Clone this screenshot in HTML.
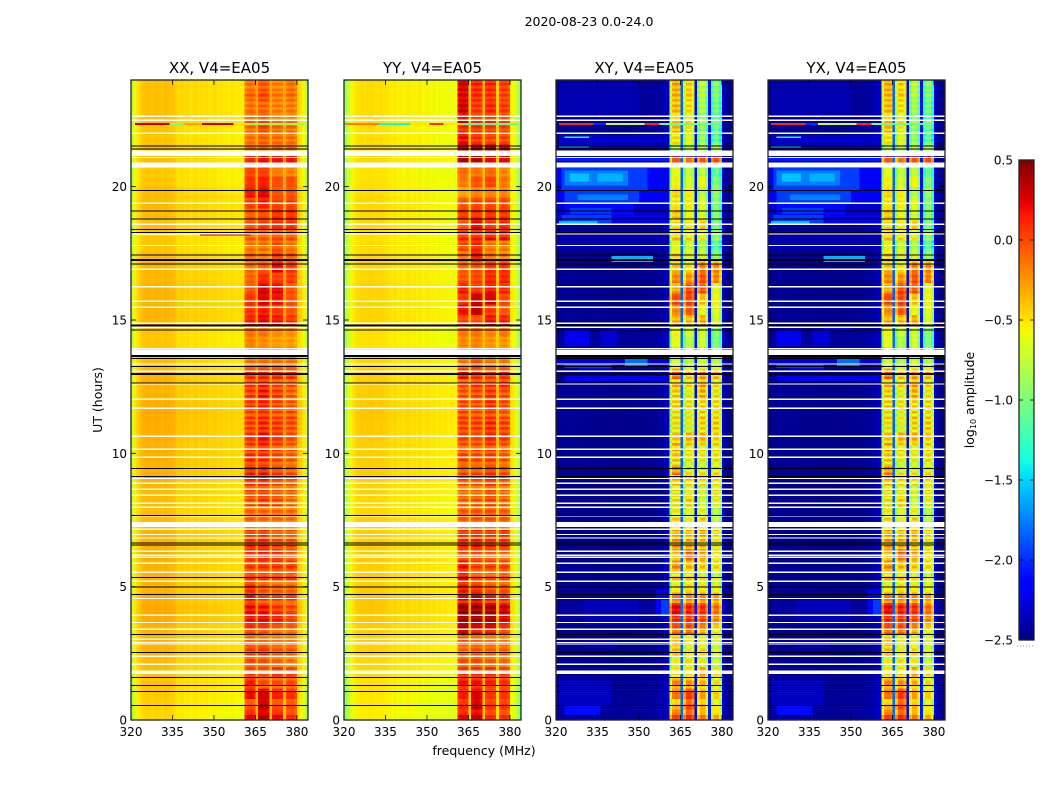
<!DOCTYPE html>
<html lang="en">
<head>
<meta charset="utf-8">
<title>2020-08-23 amplitude waterfall</title>
<style>
html,body{margin:0;padding:0;background:#fff;}
svg{display:block;}
text{font-family:"DejaVu Sans","Liberation Sans",sans-serif;fill:#000;}
</style>
</head>
<body>
<svg id="figure" xmlns="http://www.w3.org/2000/svg" width="1050" height="800" viewBox="0 0 1050 800">
<rect x="0" y="0" width="1050" height="800" fill="#fff"/>
<text x="589" y="26" font-size="12.5" text-anchor="middle">2020-08-23 0.0-24.0</text>
<text x="0" y="0" font-size="12.5" text-anchor="middle" transform="translate(102 400) rotate(-90)">UT (hours)</text>
<text x="484" y="755" font-size="12.5" text-anchor="middle">frequency (MHz)</text>
<text x="0" y="0" font-size="12.5" text-anchor="middle" transform="translate(974 400) rotate(-90)">log<tspan font-size="8" dy="2">10</tspan><tspan dy="-2"> amplitude</tspan></text>
<g id="panels"></g>
<g id="colorbar"></g>
</svg>
<script>
// ---- axis data ----
const xTickValues = [320, 335, 350, 365, 380];
const yTickValues = [0, 5, 10, 15, 20];
const colorbarTicks = [-2.5, -2.0, -1.5, -1.0, -0.5, 0.0, 0.5];
const panelTitles = ['XX, V4=EA05', 'YY, V4=EA05', 'XY, V4=EA05', 'YX, V4=EA05'];
const rowHours = 0.4;
const fineRowsPerRow = 4;
const channelCount = 64;

// channel class: -1 background or gap, 0..3 sub-band number
const channelBand = [
-1,-1,-1,-1,-1,-1,-1,-1,-1,-1,-1,-1,-1,-1,-1,-1,-1,-1,-1,-1,-1,-1,-1,-1,-1,-1,-1,-1,-1,-1,-1,-1,-1,-1,-1,-1,-1,-1,-1,-1,-1,
0,0,0,0,-1,1,1,1,1,-1,2,2,2,2,-1,3,3,3,3,-1,-1,-1,-1];

// spectral profile per channel (log10 amp for background, offset inside a sub-band)
const xxProfile = [-.75,-.55,-.47,-.42,-.38,-.37,-.36,-.38,-.37,-.36,-.37,-.38,-.36,-.37,-.38,-.39,-.44,-.45,-.43,-.46,-.44,-.48,-.46,-.44,-.48,-.46,-.47,-.45,-.49,-.47,-.46,-.49,-.48,-.5,-.49,-.51,-.48,-.5,-.51,-.5,-.52,-.13,-.08,-.06,-.1,-.27,-.08,-.05,-.05,-.1,-.3,-.08,-.06,-.06,-.1,-.3,-.1,-.06,-.06,-.13,-.42,-.47,-.55,-.75];
const yyProfile = [-.85,-.7,-.58,-.52,-.47,-.46,-.45,-.46,-.45,-.44,-.45,-.46,-.46,-.45,-.46,-.47,-.49,-.51,-.48,-.52,-.5,-.53,-.5,-.49,-.53,-.51,-.53,-.5,-.55,-.53,-.51,-.55,-.53,-.56,-.54,-.56,-.55,-.56,-.57,-.56,-.57,-.1,-.05,-.03,-.07,-.37,-.05,-.02,-.02,-.07,-.35,-.05,-.03,-.03,-.07,-.4,-.07,-.03,-.03,-.1,-.5,-.55,-.65,-.85];
const xyProfile = [-2.48,-2.46,-2.46,-2.44,-2.44,-2.46,-2.44,-2.46,-2.46,-2.44,-2.46,-2.46,-2.47,-2.46,-2.46,-2.47,-2.47,-2.46,-2.47,-2.47,-2.48,-2.47,-2.47,-2.48,-2.47,-2.48,-2.47,-2.47,-2.46,-2.47,-2.47,-2.46,-2.46,-2.46,-2.46,-2.44,-2.44,-2.42,-2.42,-2.38,-2.32,-.4,-.02,.03,-.02,-1.85,-.3,.03,.03,-.12,-2.2,-.2,.03,.03,-.25,-2.1,-.2,.03,.03,-.25,-2.3,-2.46,-2.48,-2.48];

// time variation of background, one value per 0.4 h row from 0 h upward
const xxBackground = [-.08,-.06,-.04,-.02,0,0,.03,.03,.03,.06,.06,.05,.03,.03,.03,.05,.03,.03,.01,0,.01,.01,.03,.04,.04,.04,.04,.05,.06,.05,.03,.03,.02,0,-.02,-.03,-.03,.03,.03,.03,.03,.02,.02,0,-.03,-.02,-.01,0,.01,0,-.03,-.04,0,-.01,-.03,-.02,-.01,-.01,-.01,-.01];
const yyBackground = [-.07,-.06,-.05,-.03,0,0,.02,.02,.03,.05,.05,.05,.03,.03,.03,.04,.03,.03,.02,0,0,.01,.02,.03,.03,.03,.03,.04,.05,.04,.03,.03,.02,0,-.02,-.03,-.03,.01,.01,.01,.01,0,0,-.01,-.02,-.02,-.01,-.01,0,-.02,-.03,-.04,0,-.01,-.02,-.02,-.02,-.02,-.02,-.02];
const xyBackground = [.04,.03,.03,.02,.02,.01,.01,.01,.01,.03,.03,.02,.01,.01,.01,.01,.01,.01,.01,0,0,0,0,.01,.01,.01,0,0,.01,.01,.01,.01,.02,.04,.04,.04,.02,.01,.01,.01,0,0,.01,.01,.02,.02,.03,.03,.02,.02,.02,.02,.04,.02,.02,.02,.02,.02,.02,.02];

// sub-band amplitude per 0.4 h row from 0 h upward: [band1, band2, band3, band4]
const xxBandRows = [
[.25,.38,.22,.12],[.05,.38,.05,.05],[.28,.33,.2,.15],[.2,.02,.02,.05],[.12,.08,.15,.1],
[.05,0,-.05,-.1],[.1,.1,0,0],[.05,-.02,-.05,-.05],[.15,.1,0,0],[.25,.28,.2,.1],
[.25,.2,.1,.05],[.2,.05,.05,.05],[.15,.02,-.02,-.02],[.15,.1,.1,.1],[.1,.1,.1,.1],
[.2,.25,.2,.1],[.15,.15,.05,.05],[.1,.1,0,0],[0,-.05,-.05,-.05],[-.02,-.05,-.05,-.05],
[.05,.1,.05,-.05],[.1,.1,.02,.02],[.15,.15,.05,0],[.2,.2,.1,.05],[.15,.12,.05,0],
[.1,.15,.05,0],[.1,.2,.08,.02],[.1,.15,.1,.05],[.08,.12,.05,.05],[.1,.15,.05,0],
[.12,.2,.1,0],[.1,.15,.03,0],[.15,.15,.15,.12],[-.05,-.05,-.05,-.05],[-.1,-.1,-.1,-.1],
[-.1,-.15,-.2,-.2],[-.05,-.08,-.15,-.15],[.2,.28,.22,.12],[.15,.22,.12,.05],[.15,.3,.25,.05],
[.05,.33,.3,.05],[0,.15,.1,.1],[-.05,0,.25,.12],[-.02,-.1,.1,0],[-.05,-.05,.05,-.05],
[0,0,.05,.05],[.05,.1,.15,.15],[.02,.05,.15,.15],[.12,.2,.1,.1],[.25,.3,.05,.05],
[.15,.2,.05,.05],[.1,.1,-.1,-.1],[.2,.25,.25,.25],[-.05,-.05,-.05,-.05],[-.05,-.02,-.05,-.05],
[-.02,.08,-.03,-.03],[0,.03,-.08,-.08],[-.05,-.03,-.1,-.08],[-.02,.05,-.1,-.05],[-.05,.02,-.1,-.05]];
const yyBandRows = [
[.22,.3,.1,.08],[.15,.33,.1,.1],[.2,.28,.1,.1],[.2,.18,.15,.1],[.12,.1,.12,.08],
[0,0,-.05,-.08],[-.05,-.02,-.05,-.05],[.05,-.02,-.05,-.08],[.4,.25,.25,.1],[.45,.42,.42,.3],
[.45,.42,.4,.32],[.22,.3,.15,.1],[.2,.1,0,0],[.25,.02,0,.05],[.2,.05,.05,.05],
[.1,.08,.05,0],[.15,.15,.1,.1],[.1,.1,.1,.1],[-.02,-.02,0,-.02],[-.02,-.02,0,-.03],
[-.03,-.03,.03,-.05],[-.05,-.05,.05,-.05],[.02,0,.08,0],[.05,.03,.1,.02],[.05,0,.05,-.03],
[0,0,.05,-.03],[.03,-.02,.1,.03],[.05,.05,.12,.05],[.05,0,.05,0],[.02,0,.1,.02],
[0,.02,.08,.02],[0,.05,.05,.08],[.2,.1,.05,.1],[-.1,.02,-.1,-.1],[-.2,-.2,-.2,-.2],
[-.15,-.15,-.2,-.2],[-.1,-.1,-.15,-.1],[.05,0,.2,.15],[.25,.35,.1,0],[.12,.32,.3,.05],
[.2,.1,.2,.15],[.02,.05,.15,.15],[-.05,0,.1,.1],[-.1,.2,-.1,-.15],[.05,.15,-.1,-.1],
[.15,.15,.2,.2],[0,.25,.1,.15],[.1,.1,.12,.1],[.02,.05,.05,.05],[-.25,-.15,-.15,-.15],
[-.1,0,.05,-.1],[-.05,-.1,-.05,-.15],[.42,.38,.25,.3],[.4,.4,.4,.35],[.25,.1,.05,.05],
[.15,.1,.08,.05],[.3,.1,.12,.05],[.35,.1,.15,.1],[.3,.12,.1,.05],[.35,.15,.15,.1]];
const xyBandRows = [
[-.05,0,-.25,-.4],[-.4,-.05,-.4,-.6],[-.15,.03,-.3,-.45],[-.25,-.3,-.4,-.55],[-.5,-.5,-.3,-.5],
[-.6,-.55,-.6,-.75],[-.4,-.6,-.5,-.7],[-.35,-.55,-.6,-.6],[-.05,-.05,-.25,-.5],[.1,.05,0,-.2],
[.2,.1,.05,-.15],[-.2,-.25,-.25,-.3],[-.55,-.5,-.55,-.6],[-.4,-.45,-.55,-.65],[-.25,-.4,-.45,-.5],
[-.3,0,-.2,-.45],[-.25,-.35,-.4,-.55],[-.35,-.4,-.35,-.5],[-.45,-.6,-.45,-.75],[-.55,-.65,-.6,-.8],
[-.5,-.45,-.7,-.6],[-.5,-.55,-.65,-.5],[-.4,-.5,-.55,-.55],[-.2,-.55,-.55,-.5],[-.45,-.6,-.6,-.55],
[-.35,-.5,-.55,-.5],[-.45,-.4,-.4,-.5],[-.55,-.65,-.5,-.45],[-.5,-.6,-.45,-.5],[-.45,-.55,-.5,-.5],
[-.45,-.6,-.35,-.55],[-.4,-.55,-.35,-.55],[-.15,-.45,-.3,-.4],[-.7,-.8,-.7,-.8],[-.9,-.9,-.9,-.9],
[-.6,-.8,-.7,-1],[-.55,-.7,-.7,-.95],[-.35,-.4,-.35,-.7],[-.2,-.05,-.6,-.65],[0,0,-.4,-.6],
[-.3,0,-.05,-.6],[-.2,-.25,-.05,-.2],[-.4,-.55,-.2,-.25],[-.45,-.6,-.65,-.9],[-.6,-.7,-.8,-1.1],
[-.4,-.5,-.6,-.9],[-.5,-.55,-.45,-1],[-.4,-.6,-.7,-.95],[-.5,-.55,-.65,-1],[-.45,-.55,-.8,-.9],
[-.55,-.7,-.6,-1],[-.6,-.75,-.75,-1.1],[-.05,-.15,-.05,-.02],[-.8,-.8,-.8,-.8],[-.5,-.65,-.9,-1.1],
[-.35,-.55,-.9,-1.05],[-.4,-.55,-.85,-1.05],[-.35,-.5,-.85,-1.05],[-.35,-.45,-.8,-1],[-.3,-.45,-.75,-.95]];

// fine time stripes inside the sub-bands, one value per 0.1 h from 0 h upward
const autoStripes = [
.05,.08,-.06,-.1,.03,.06,-.04,-.08,.02,0,
.04,-.06,-.08,.05,.06,-.08,-.03,.04,-.06,.02,
-.08,.05,.06,-.1,.04,-.08,.06,-.06,.05,-.08,
.06,-.08,.05,-.1,.06,.04,-.1,.05,-.06,.06,
.08,-.06,.1,-.1,-.12,.1,.08,-.08,.06,-.06,
.04,-.1,.05,.08,-.12,.04,-.08,.08,-.06,.05,
-.08,.06,-.1,.08,-.06,.08,-.12,.06,-.08,.08,
-.06,.08,-.1,.06,-.08,.05,-.08,-.04,.06,-.1,
.08,-.12,.08,-.08,.1,-.1,.06,-.12,.08,-.06,
.1,-.12,.08,-.1,.1,-.08,-.12,.1,-.08,.08,
-.1,.08,-.12,.1,-.06,.08,-.1,.08,-.08,.1,
-.12,.1,-.08,.1,-.12,.08,-.1,.1,-.08,.08,
-.1,.1,-.12,.08,-.08,.1,-.06,-.1,.08,-.1,
.08,-.08,.06,-.06,.04,-.06,.04,-.02,.02,-.02,
.02,-.02,.03,-.03,.02,-.02,.02,-.03,.02,.08,
-.03,.03,-.02,.02,-.03,.02,.03,-.02,.02,-.02,
.05,-.05,.04,-.06,.05,-.04,.03,-.04,.06,-.05,
.05,-.08,.06,-.05,.08,-.06,.05,-.08,.05,-.06,
.06,-.08,.04,-.06,.06,-.03,.04,-.04,.05,-.04,
.03,-.03,.02,-.03,.05,-.04,.03,-.02,.02,-.03,
.02,-.02,.02,.02,-.03,.02,-.02,.02,-.03,.02,
0,0,0,0,.04,-.06,.05,-.08,.06,-.06,
.06,-.08,.05,-.08,.06,-.08,.06,-.06,.05,-.08,
.06,-.08,.05,-.06,.08,-.06,.04,-.08,.06,-.05];
const crossStripes = [
.08,.12,-.1,-.15,.05,.1,-.06,-.12,.03,0,
.06,-.1,-.12,.08,.1,-.12,-.05,.06,-.1,.03,
-.12,.08,.1,-.15,.06,-.12,.1,-.1,.08,-.12,
.1,-.12,.08,-.15,.1,.06,-.15,.08,-.1,.1,
.06,-.04,.08,-.08,-.1,.08,.06,-.06,.04,-.04,
.06,-.15,.08,.12,-.18,.06,-.12,.12,-.1,.08,
-.12,.1,-.15,.12,-.1,.12,-.18,.1,-.12,.12,
-.1,.12,-.15,.1,-.12,.08,-.12,-.06,.1,-.15,
.12,-.18,.12,-.12,.15,-.15,.1,-.18,.12,-.1,
.15,-.18,.12,-.15,.15,-.12,-.18,.15,-.12,.12,
-.15,.12,-.18,.15,-.1,.12,-.15,.12,-.12,.15,
-.18,.15,-.12,.15,-.18,.12,-.15,.15,-.12,.12,
-.15,.15,-.18,.12,-.12,.15,-.1,-.15,.12,-.15,
.12,-.12,.1,-.1,.06,-.1,.06,-.03,.03,-.03,
.03,-.03,.05,-.05,.03,-.03,.03,-.05,.03,.12,
-.05,.05,-.03,.03,-.05,.03,.05,-.03,.03,-.03,
.08,-.08,.06,-.1,.08,-.06,.05,-.06,.1,-.08,
.08,-.12,.1,-.08,.12,-.1,.08,-.12,.08,-.1,
.1,-.12,.06,-.1,.1,-.05,.06,-.06,.08,-.06,
.05,-.05,.03,-.05,.08,-.06,.05,-.03,.03,-.05,
.03,-.03,.03,.03,-.05,.03,-.03,.03,-.05,.03,
0,0,0,0,.06,-.1,.08,-.12,.1,-.1,
.1,-.12,.08,-.12,.1,-.12,.1,-.1,.08,-.12,
.1,-.12,.08,-.1,.12,-.1,.06,-.12,.1,-.08];

// localized features: [hourStart, hourEnd, channelStart, channelEnd, log10 amp]
const crossPatches = [
[20.7,19.88,0,41,-2.15],[20.7,19.88,2,33,-1.95],[20.6,20.05,3,26,-1.75],[20.5,20.2,5,12,-1.55],[20.5,20.2,15,24,-1.6],
[19.84,19.39,0,41,-2.15],[19.84,19.39,3,30,-1.95],[19.7,19.5,8,26,-1.75],
[19.39,18.94,0,41,-2.3],[19.39,18.94,3,28,-2.1],[19.2,19,5,20,-1.95],
[18.94,18.6,0,41,-2.2],[18.94,18.6,2,20,-1.95],[18.71,18.62,1,15,-1.55],
[18.19,17.63,0,41,-2.38],[17.4,17.18,20,35,-1.6],[21.08,20.96,0,41,-2.05],[21.14,21.1,0,60,-2.1],
[13.58,13.28,0,41,-2.25],[13.58,13.28,25,33,-1.8],[13.35,13.2,3,20,-1.95],[13.2,13.05,8,20,-2.15],
[12.9,12.71,3,40,-2.2],[14.63,14.03,3,12,-2.2],[14.63,14.03,16,22,-2.28],[14.74,14.63,20,30,-2.15],
[4.88,3.94,36,41,-2.15],[4.5,3.94,38,41,-1.95],[4.5,3.56,10,30,-2.36],[3,2.7,10,22,-2.36],
[1.5,.53,1,20,-2.33],[.53,.19,3,16,-2.1],[23.93,22.5,1,30,-2.38],[21.94,21.45,1,40,-2.32],
[21.88,21.82,3,12,-1.4],[21.52,21.46,1,12,-1.6]];
const xxLines = [
[22.39,22.31,1.4,14,.35],[22.39,22.31,14,19,-1],[22.39,22.31,19,25.6,-.3],[22.39,22.31,25.6,37,.35],
[22.39,22.31,37,43,-.5],[22.39,22.31,43,63,-.9],[18.24,18.16,25,43,.35],[18.24,18.16,1,25,-.6]];
const yyLines = [
[22.39,22.31,.4,12.4,-.15],[22.39,22.31,12.4,24,-1.4],[22.39,22.31,24,31,-.5],[22.39,22.31,31,36,.1],
[22.39,22.31,36,43,-.5],[22.39,22.31,43,63,-1.1]];
const xyLines = [
[22.39,22.31,1,13.5,.1],[22.39,22.31,13.5,18,-2],[22.39,22.31,18,32,-.7],[22.39,22.31,32,37.5,.1],
[22.39,22.31,37.5,41,-1],[22.39,22.31,41,60,-1.1]];

// blank integrations: single thin rows and wider blocks, in hours
const thinGapHours = [22.64,22.49,22,21.09,19.38,18.59,18.23,17.79,17.1,16.9,16.25,15.7,15.48,14.88,14.73,13.92,13.35,13.08,12.6,12.03,11.69,10.64,10.15,9.85,9.06,8.88,8.65,8.43,8.13,7.98,7.65,7.15,6.96,6.83,6.33,6.18,6.1,5.88,5.54,5.2,4.56,3.93,3.66,3.03,2.91,2.85,2.39,2.09];
const wideGapStart = [21.35,20.91,13.88,7.43,3.44,1.86];
const wideGapEnd = [21.15,20.71,13.69,7.24,3.38,1.73];
// flagged integrations drawn as black rules, in hours
const thinFlagHours = [21.53,21.42,19.86,19.08,18.78,18.4,18.29,17.43,17.1,14.63,13.56,13.25,12.63,9.44,9.14,7.67,6.63,6.56,5.35,4.98,4.71,3.21,2.54,1.6,1.3,1.07,.55];
const thickFlagHours = [17.25,14.8,13.65,12.98];

// ---- scales and helpers ----
const plotTop = 80, plotBottom = 720, panelWidth = 177;
const panelLeft = [131, 344, 556, 768];
const svgNS = 'http://www.w3.org/2000/svg';
function yScale(h){ return plotBottom - (plotBottom - plotTop) * h / 24; }
function xScale(left, mhz){ return left + panelWidth * (mhz - 320) / 64; }
function jetPart(n, pts){
  for (let i = 1; i < pts.length; i++) {
    if (n <= pts[i][0]) {
      const a = pts[i-1], b = pts[i];
      return a[1] + (b[1] - a[1]) * (n - a[0]) / (b[0] - a[0]);
    }
  }
  return pts[pts.length-1][1];
}
const jetR = [[0,0],[.35,0],[.66,1],[.89,1],[1,.5]];
const jetG = [[0,0],[.125,0],[.375,1],[.64,1],[.91,0],[1,0]];
const jetB = [[0,.5],[.11,1],[.34,1],[.65,0],[1,0]];
function colorOf(v){
  const n = Math.max(0, Math.min(1, (v + 2.5) / 3));
  return 'rgb(' + Math.round(255*jetPart(n,jetR)) + ',' + Math.round(255*jetPart(n,jetG)) + ',' + Math.round(255*jetPart(n,jetB)) + ')';
}
function svgEl(tag, parent, attrs){
  const el = document.createElementNS(svgNS, tag);
  for (const k in attrs) el.setAttribute(k, attrs[k]);
  parent.appendChild(el);
  return el;
}
function minusText(v, digits){
  return (v < 0 ? '\u2212' : '') + Math.abs(v).toFixed(digits);
}

const panels = [
  {profile:xxProfile, background:xxBackground, bands:xxBandRows, stripes:autoStripes, patches:[], lines:xxLines},
  {profile:yyProfile, background:yyBackground, bands:yyBandRows, stripes:autoStripes, patches:[], lines:yyLines},
  {profile:xyProfile, background:xyBackground, bands:xyBandRows, stripes:crossStripes, patches:crossPatches, lines:xyLines},
  {profile:xyProfile, background:xyBackground, bands:xyBandRows, stripes:crossStripes, patches:crossPatches, lines:xyLines}
];

const root = document.getElementById('panels');
panels.forEach(function(p, idx){
  const left = panelLeft[idx];
  const g = svgEl('g', root, {});
  
  

  const title = svgEl('text', g, {x: left + panelWidth/2, y: 73, 'font-size': 15, 'text-anchor': 'middle'});
  title.textContent = panelTitles[idx];
  
  

  const cells = svgEl('g', g, {'shape-rendering': 'crispEdges'});
  
  
  const nRows = p.bands.length;
  const fineHours = rowHours / fineRowsPerRow;
  for (let r = 0; r < nRows; r++) {
    for (let c = 0; c < channelCount; c++) {
      const band = channelBand[c];
      const x0 = xScale(left, 320 + c), x1 = xScale(left, 321 + c);
      if (band < 0) {
        const y1 = yScale((r + 1) * rowHours), y0 = yScale(r * rowHours);
        const cell = svgEl('rect', cells, {x: x0, y: y1, width: x1 - x0 + 0.3, height: y0 - y1 + 0.3, fill: colorOf(p.profile[c] + p.background[r])});
        
        
      } else {
        for (let k = 0; k < fineRowsPerRow; k++) {
          const f = r * fineRowsPerRow + k;
          const yb = yScale(f * fineHours), yt = yScale((f + 1) * fineHours);
          const v = p.bands[r][band] + p.profile[c] + p.stripes[f];
          const fine = svgEl('rect', cells, {x: x0, y: yt, width: x1 - x0 + 0.3, height: yb - yt + 0.3, fill: colorOf(v)});
          
          
        }
      }
    }
  }
  p.patches.concat(p.lines).forEach(function(q){
    const x0 = xScale(left, 320 + q[2]), x1 = xScale(left, 320 + q[3]);
    const y0 = yScale(q[0]), y1 = yScale(q[1]);
    const patch = svgEl('rect', cells, {x: x0, y: y0, width: x1 - x0, height: y1 - y0, fill: colorOf(q[4])});
    
    
  });
  thinGapHours.forEach(function(h){
    const gap = svgEl('rect', cells, {x: left, y: yScale(h) - 0.6, width: panelWidth, height: 1.2, fill: '#fff'});
    
    
  });
  wideGapStart.forEach(function(h, i){
    const gap = svgEl('rect', cells, {x: left, y: yScale(h), width: panelWidth, height: yScale(wideGapEnd[i]) - yScale(h), fill: '#fff'});
    
    
  });
  thinFlagHours.forEach(function(h){
    const rule = svgEl('rect', cells, {x: left, y: yScale(h) - 0.5, width: panelWidth, height: 1, fill: '#000'});
    
    
  });
  thickFlagHours.forEach(function(h){
    const rule = svgEl('rect', cells, {x: left, y: yScale(h) - 1, width: panelWidth, height: 2, fill: '#000'});
    
    
  });

  xTickValues.forEach(function(v){
    const x = xScale(left, v);
    const bt = svgEl('line', g, {x1:x, x2:x, y1:plotBottom, y2:plotBottom-5, stroke:'#000', 'stroke-width':.8});
    
    
    const tt = svgEl('line', g, {x1:x, x2:x, y1:plotTop, y2:plotTop+5, stroke:'#000', 'stroke-width':.8});
    
    
    const lbl = svgEl('text', g, {x:x, y:736, 'font-size':12, 'text-anchor':'middle'});
    lbl.textContent = String(v);
    
    
  });
  yTickValues.forEach(function(v){
    const y = yScale(v);
    const lt = svgEl('line', g, {x1:left, x2:left+5, y1:y, y2:y, stroke:'#000', 'stroke-width':.8});
    
    
    const rt = svgEl('line', g, {x1:left+panelWidth, x2:left+panelWidth-5, y1:y, y2:y, stroke:'#000', 'stroke-width':.8});
    
    
    const lbl = svgEl('text', g, {x:left-4, y:y+4.5, 'font-size':12, 'text-anchor':'end'});
    lbl.textContent = String(v);
    
    
  });
  const frame = svgEl('rect', g, {x:left, y:plotTop, width:panelWidth, height:plotBottom-plotTop, fill:'none', stroke:'#222', 'stroke-width':1.3});
  
  
});

// ---- colorbar ----
const cbar = document.getElementById('colorbar');
const cbLeft = 1019, cbWidth = 15, cbTop = 160, cbBottom = 640;
function cbScale(v){ return cbBottom - (cbBottom - cbTop) * (v + 2.5) / 3; }
const cbSteps = 240;
for (let i = 0; i < cbSteps; i++) {
  const v0 = -2.5 + 3 * i / cbSteps, v1 = -2.5 + 3 * (i + 1) / cbSteps;
  const seg = svgEl('rect', cbar, {x:cbLeft, y:cbScale(v1), width:cbWidth, height:cbScale(v0)-cbScale(v1)+.3, fill:colorOf((v0+v1)/2), 'shape-rendering':'crispEdges'});
  
  
}
colorbarTicks.forEach(function(v){
  const y = cbScale(v);
  const a = svgEl('line', cbar, {x1:cbLeft, x2:cbLeft+4, y1:y, y2:y, stroke:'#000', 'stroke-width':.8});
  
  
  const b = svgEl('line', cbar, {x1:cbLeft+cbWidth, x2:cbLeft+cbWidth-4, y1:y, y2:y, stroke:'#000', 'stroke-width':.8});
  
  
  const t = svgEl('text', cbar, {x:1013, y:y+4.5, 'font-size':12, 'text-anchor':'end'});
  t.textContent = minusText(v, 1);
  
  
});
const cbFrame = svgEl('rect', cbar, {x:cbLeft, y:cbTop, width:cbWidth, height:cbBottom-cbTop, fill:'none', stroke:'#222', 'stroke-width':1.3});


const cbDots = svgEl('line', cbar, {x1:1017, x2:1035, y1:646, y2:646, stroke:'#999', 'stroke-width':1, 'stroke-dasharray':'1 2'});


</script>
</body>
</html>
